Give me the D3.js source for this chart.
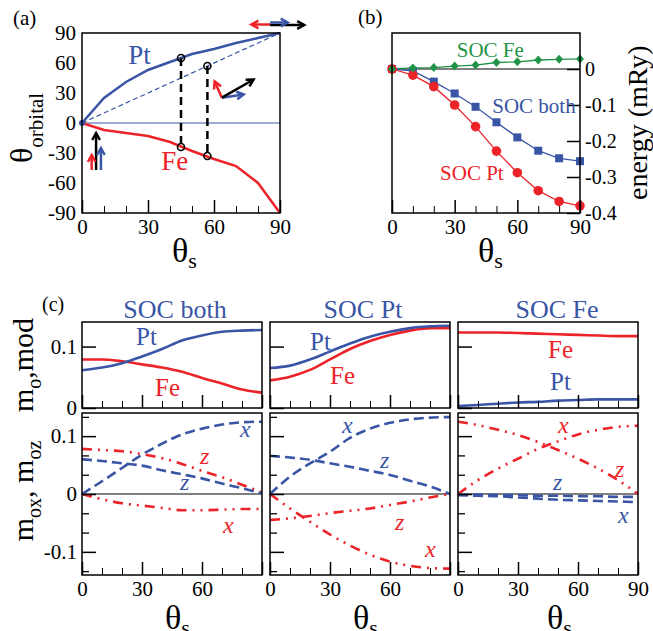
<!DOCTYPE html>
<html>
<head>
<meta charset="utf-8">
<script src="https://cdn.jsdelivr.net/npm/d3@7"></script>
<style>
body { margin: 0; background: #fff; }
svg { display: block; font-family: "Liberation Serif", "Times New Roman", serif; }
</style>
</head>
<body>
<svg id="fig" width="653" height="631"></svg>
<script>
var BLUE = "#3a55a6", RED = "#ec2329", GREEN = "#1f9447";

// shared x values (theta_s, degrees)
var thetaS = [0, 10, 20, 30, 40, 50, 60, 70, 80, 90];

// (a) orbital moment angle
var orbPt = [0, 25, 41, 53, 61, 69, 74, 80, 85, 90];
var orbFe = [0, -7, -10, -13, -19, -28, -36, -43, -60, -90];
var markS = [45, 57];
var markTop = [65, 57];
var markBot = [-24, -33];

// (b) energy (mRy)
var energyFe = [0, 0.003, 0.004, 0.008, 0.011, 0.018, 0.020, 0.025, 0.027, 0.028];
var energyBoth = [0, -0.005, -0.035, -0.068, -0.105, -0.148, -0.190, -0.227, -0.248, -0.256];
var energyPt = [0, -0.017, -0.049, -0.100, -0.160, -0.228, -0.288, -0.338, -0.368, -0.380];

// (c) |m_o| per column
var modBothPt = [0.0615, 0.066, 0.073, 0.084, 0.096, 0.110, 0.118, 0.124, 0.126, 0.127];
var modBothFe = [0.079, 0.079, 0.076, 0.071, 0.066, 0.059, 0.049, 0.040, 0.030, 0.025];
var modPtPt = [0.065, 0.069, 0.079, 0.092, 0.105, 0.116, 0.124, 0.130, 0.133, 0.134];
var modPtFe = [0.045, 0.051, 0.062, 0.079, 0.096, 0.109, 0.119, 0.126, 0.130, 0.130];
var modFePt = [0.003, 0.005, 0.007, 0.009, 0.010, 0.012, 0.013, 0.014, 0.014, 0.014];
var modFeFe = [0.123, 0.123, 0.123, 0.122, 0.121, 0.120, 0.119, 0.118, 0.117, 0.117];

// (c) m_ox, m_oz per column
var bothPtX = [0, 0.022, 0.045, 0.068, 0.087, 0.103, 0.113, 0.120, 0.124, 0.125];
var bothPtZ = [0.060, 0.057, 0.053, 0.049, 0.041, 0.034, 0.027, 0.018, 0.010, 0.001];
var bothFeZ = [0.078, 0.076, 0.074, 0.069, 0.062, 0.052, 0.040, 0.029, 0.016, 0.003];
var bothFeX = [0, -0.009, -0.016, -0.020, -0.024, -0.028, -0.028, -0.027, -0.026, -0.026];
var ptPtX = [0, 0.030, 0.053, 0.073, 0.097, 0.113, 0.123, 0.129, 0.132, 0.133];
var ptPtZ = [0.066, 0.063, 0.059, 0.053, 0.047, 0.040, 0.033, 0.023, 0.013, 0];
var ptFeZ = [-0.045, -0.042, -0.038, -0.033, -0.029, -0.025, -0.019, -0.013, -0.006, 0];
var ptFeX = [0, -0.025, -0.048, -0.070, -0.089, -0.105, -0.117, -0.124, -0.128, -0.129];
var fePtX = [-0.002, -0.003, -0.004, -0.006, -0.008, -0.010, -0.011, -0.012, -0.013, -0.014];
var fePtZ = [-0.001, -0.001, -0.002, -0.002, -0.003, -0.003, -0.004, -0.004, -0.005, -0.005];
var feFeZ = [0.125, 0.119, 0.111, 0.102, 0.090, 0.076, 0.061, 0.044, 0.024, 0];
var feFeX = [0, 0.024, 0.044, 0.061, 0.078, 0.091, 0.103, 0.111, 0.116, 0.118];

var colTitles = ["SOC both", "SOC Pt", "SOC Fe"];
var xMajor = [0, 30, 60, 90];
var xMinor = [10, 20, 40, 50, 70, 80];

var svg = d3.select("#fig");

function zip(ys) { return thetaS.map(function(t, i) { return [t, ys[i]]; }); }

function frame(g, x, y) {
  g.append("rect")
    .attr("x", x.range()[0]).attr("y", y.range()[1])
    .attr("width", x.range()[1] - x.range()[0])
    .attr("height", y.range()[0] - y.range()[1])
    .attr("fill", "none").attr("stroke", "#000").attr("stroke-width", 1.5);
}

function bottomTicks(g, x, y, labels) {
  var yb = y.range()[0];
  g.append("g").attr("transform", "translate(0," + yb + ")")
    .call(d3.axisBottom(x).tickValues(xMinor).tickSize(-7).tickFormat(""))
    .call(function(s) { s.select(".domain").remove(); });
  g.append("g").attr("transform", "translate(0," + yb + ")")
    .call(d3.axisBottom(x).tickValues(xMajor).tickSize(-13).tickPadding(6)
      .tickFormat(function(d) { return labels.indexOf(d) >= 0 ? d : ""; }))
    .call(function(s) {
      s.select(".domain").remove();
      s.selectAll("line").attr("stroke-width", 1.5);
      s.selectAll("text").attr("font-size", 21).attr("fill", "#000")
        .style("font-family", "Liberation Serif, serif");
    });
}

function arrow(g, x1, y1, x2, y2, color) {
  var a = Math.atan2(y2 - y1, x2 - x1), L = 8;
  g.append("line").attr("x1", x1).attr("y1", y1).attr("x2", x2).attr("y2", y2)
    .attr("stroke", color).attr("stroke-width", 2.5);
  g.append("path")
    .attr("d", "M" + (x2 - L * Math.cos(a - 0.5)) + "," + (y2 - L * Math.sin(a - 0.5)) +
      "L" + x2 + "," + y2 +
      "L" + (x2 - L * Math.cos(a + 0.5)) + "," + (y2 - L * Math.sin(a + 0.5)))
    .attr("fill", "none").attr("stroke", color).attr("stroke-width", 2.5);
}

function label(g, x, y, txt, color, size, italic) {
  return g.append("text").attr("x", x).attr("y", y).text(txt)
    .attr("fill", color).attr("font-size", size)
    .attr("font-style", italic ? "italic" : null);
}

// ---------------- panel (a) ----------------
var ga = svg.append("g");
var xa = d3.scaleLinear().domain([0, 90]).range([82, 280]);
var ya = d3.scaleLinear().domain([-90, 90]).range([213, 33]);
var lineA = d3.line().x(function(d) { return xa(d[0]); }).y(function(d) { return ya(d[1]); });

ga.append("line").attr("x1", xa(0)).attr("x2", xa(90)).attr("y1", ya(0)).attr("y2", ya(0))
  .attr("stroke", BLUE).attr("stroke-width", 1);
ga.append("path").attr("d", lineA([[0, 0], [90, 90]])).attr("fill", "none")
  .attr("stroke", BLUE).attr("stroke-width", 1.2).attr("stroke-dasharray", "5,3");
ga.append("path").attr("d", lineA(zip(orbPt))).attr("fill", "none").attr("stroke", BLUE).attr("stroke-width", 2.5);
ga.append("path").attr("d", lineA(zip(orbFe))).attr("fill", "none").attr("stroke", RED).attr("stroke-width", 2.5);
markS.forEach(function(s, i) {
  ga.append("line").attr("x1", xa(s)).attr("x2", xa(s)).attr("y1", ya(markTop[i])).attr("y2", ya(markBot[i]))
    .attr("stroke", "#000").attr("stroke-width", 2.5).attr("stroke-dasharray", "8,5");
  [markTop[i], markBot[i]].forEach(function(v) {
    ga.append("circle").attr("cx", xa(s)).attr("cy", ya(v)).attr("r", 3.5)
      .attr("fill", "none").attr("stroke", "#000").attr("stroke-width", 1.6);
  });
});
ga.append("circle").attr("cx", xa(0)).attr("cy", ya(0)).attr("r", 3).attr("fill", BLUE);
frame(ga, xa, ya);
bottomTicks(ga, xa, ya, xMajor);
ga.append("g").attr("transform", "translate(" + xa(0) + ",0)")
  .call(d3.axisLeft(ya).tickValues([-90, -60, -30, 0, 30, 60, 90]).tickSize(0).tickPadding(6)
    .tickFormat(function(d) { return String(d); }))
  .call(function(s) {
    s.select(".domain").remove();
    s.selectAll("text").attr("font-size", 21).attr("fill", "#000").style("font-family", "Liberation Serif, serif");
  });

// spin / orbital arrows (in data coordinates)
arrow(ga, xa(6.4), ya(-47), xa(6.4), ya(-10), "#000");
arrow(ga, xa(4.4), ya(-47), xa(4.4), ya(-32), RED);
arrow(ga, xa(8.6), ya(-47), xa(8.6), ya(-25), BLUE);
arrow(ga, xa(85.5), ya(98.5), xa(77), ya(98.5), RED);
arrow(ga, xa(85.5), ya(98), xa(101), ya(98), "#000");
arrow(ga, xa(85.5), ya(100.5), xa(93.5), ya(100.5), BLUE);
arrow(ga, xa(63.6), ya(25.3), xa(60.3), ya(41.5), RED);
arrow(ga, xa(63.6), ya(25.3), xa(73.5), ya(28.5), BLUE);
arrow(ga, xa(63.6), ya(25.3), xa(78), ya(43.5), "#000");

label(ga, xa(21), ya(59), "Pt", BLUE, 27);
label(ga, xa(36), ya(-47), "Fe", RED, 27);
label(ga, 13, 25, "(a)", "#000", 21);
var ta = ga.append("text").attr("transform", "translate(32,163) rotate(-90)").attr("fill", "#000");
ta.append("tspan").text("θ").attr("font-size", 32);
ta.append("tspan").text("orbital").attr("font-size", 21).attr("dy", 11);
var sa = ga.append("text").attr("x", 172).attr("y", 262).attr("fill", "#000");
sa.append("tspan").text("θ").attr("font-size", 34);
sa.append("tspan").text("s").attr("font-size", 22).attr("dy", 6);

// ---------------- panel (b) ----------------
var gb = svg.append("g");
var xb = d3.scaleLinear().domain([0, 90]).range([392, 580]);
var yb = d3.scaleLinear().domain([-0.4, 0.1]).range([213, 33]);
var lineB = d3.line().x(function(d) { return xb(d[0]); }).y(function(d) { return yb(d[1]); });

gb.append("line").attr("x1", xb(0)).attr("x2", xb(90)).attr("y1", yb(0)).attr("y2", yb(0))
  .attr("stroke", "#000").attr("stroke-width", 1.2);
gb.append("path").attr("d", lineB(zip(energyFe))).attr("fill", "none").attr("stroke", GREEN).attr("stroke-width", 1.3);
gb.append("path").attr("d", lineB(zip(energyBoth))).attr("fill", "none").attr("stroke", BLUE).attr("stroke-width", 1.3);
gb.append("path").attr("d", lineB(zip(energyPt))).attr("fill", "none").attr("stroke", RED).attr("stroke-width", 1.3);
gb.selectAll(".sq").data(zip(energyBoth)).enter().append("rect")
  .attr("x", function(d) { return xb(d[0]) - 4; }).attr("y", function(d) { return yb(d[1]) - 4; })
  .attr("width", 8).attr("height", 8).attr("fill", BLUE);
gb.selectAll(".ci").data(zip(energyPt)).enter().append("circle")
  .attr("cx", function(d) { return xb(d[0]); }).attr("cy", function(d) { return yb(d[1]); })
  .attr("r", 4.8).attr("fill", RED);
gb.selectAll(".di").data(zip(energyFe)).enter().append("path")
  .attr("transform", function(d) { return "translate(" + xb(d[0]) + "," + yb(d[1]) + ")"; })
  .attr("d", "M0,-4.5L4,0L0,4.5L-4,0Z").attr("fill", GREEN);
frame(gb, xb, yb);
bottomTicks(gb, xb, yb, xMajor);
gb.append("g").attr("transform", "translate(" + xb(90) + ",0)")
  .call(d3.axisRight(yb).tickValues([-0.4, -0.3, -0.2, -0.1, 0]).tickSize(-13).tickPadding(5)
    .tickFormat(function(d) { return String(d); }))
  .call(function(s) {
    s.select(".domain").remove();
    s.selectAll("line").attr("stroke-width", 1.5);
    s.selectAll("text").attr("font-size", 20).attr("fill", "#000").style("font-family", "Liberation Serif, serif");
  });
label(gb, xb(31), yb(0.033), "SOC Fe", GREEN, 21);
label(gb, xb(48), yb(-0.121), "SOC both", BLUE, 21);
label(gb, xb(23), yb(-0.308), "SOC Pt", RED, 21);
label(gb, 358, 24, "(b)", "#000", 21);
gb.append("text").attr("transform", "translate(647,200) rotate(-90)").attr("fill", "#000")
  .attr("font-size", 28).text("energy (mRy)");
var sb = gb.append("text").attr("x", 478).attr("y", 262).attr("fill", "#000");
sb.append("tspan").text("θ").attr("font-size", 34);
sb.append("tspan").text("s").attr("font-size", 22).attr("dy", 6);

// ---------------- panel (c) ----------------
var colX = [[82, 262], [270, 450], [458, 638]];
var titleX = [175, 363, 557];
var modPt = [modBothPt, modPtPt, modFePt];
var modFe = [modBothFe, modPtFe, modFeFe];
var compPtX = [bothPtX, ptPtX, fePtX];
var compPtZ = [bothPtZ, ptPtZ, fePtZ];
var compFeX = [bothFeX, ptFeX, feFeX];
var compFeZ = [bothFeZ, ptFeZ, feFeZ];
var xLabelsC = [[0, 30, 60], [0, 30, 60], [0, 30, 60, 90]];
// label anchors [theta, value]
var topLabPt = [[27, 0.102], [20, 0.095], [46, 0.0295]];
var topLabFe = [[36.5, 0.020], [30, 0.039], [45, 0.082]];
var labPtX = [[79, 0.0985], [36, 0.105], [80, -0.050]];
var labPtZ = [[49, 0.007], [55, 0.045], [47.5, 0.007]];
var labFeZ = [[59, 0.051], [62.5, -0.062], [78.5, 0.030]];
var labFeX = [[70.5, -0.067], [77.5, -0.109], [50, 0.106]];

var gc = svg.append("g");
colX.forEach(function(cx, c) {
  var x = d3.scaleLinear().domain([0, 90]).range(cx);
  var yT = d3.scaleLinear().domain([0, 0.14]).range([408, 322]);
  var yB = d3.scaleLinear().domain([-0.14, 0.14]).range([575, 413]);
  var lT = d3.line().curve(d3.curveMonotoneX).x(function(d) { return x(d[0]); }).y(function(d) { return yT(d[1]); });
  var lB = d3.line().curve(d3.curveMonotoneX).x(function(d) { return x(d[0]); }).y(function(d) { return yB(d[1]); });

  // top row
  var gt = gc.append("g");
  gt.append("path").attr("d", lT(zip(modFe[c]))).attr("fill", "none").attr("stroke", RED).attr("stroke-width", 2.6);
  gt.append("path").attr("d", lT(zip(modPt[c]))).attr("fill", "none").attr("stroke", BLUE).attr("stroke-width", 2.6);
  frame(gt, x, yT);
  bottomTicks(gt, x, yT, []);
  gt.append("g").attr("transform", "translate(" + cx[0] + ",0)")
    .call(d3.axisLeft(yT).tickValues([0, 0.1]).tickSize(-14).tickPadding(5)
      .tickFormat(function(d) { return c === 0 ? String(d) : ""; }))
    .call(function(s) {
      s.select(".domain").remove();
      s.selectAll("line").attr("stroke-width", 1.5);
      s.selectAll("text").attr("font-size", 21).attr("fill", "#000").style("font-family", "Liberation Serif, serif");
    });
  label(gt, x(topLabPt[c][0]), yT(topLabPt[c][1]), "Pt", BLUE, 25);
  label(gt, x(topLabFe[c][0]), yT(topLabFe[c][1]), "Fe", RED, 25);
  label(gt, titleX[c], 318, colTitles[c], BLUE, 26).attr("text-anchor", "middle");

  // bottom row
  var gbm = gc.append("g");
  gbm.append("line").attr("x1", cx[0]).attr("x2", cx[1]).attr("y1", yB(0)).attr("y2", yB(0))
    .attr("stroke", "#000").attr("stroke-width", 1.2);
  var dashB = "10,5", dashR = "10,6,2,6,2,6";
  gbm.append("path").attr("d", lB(zip(compFeZ[c]))).attr("fill", "none").attr("stroke", RED)
    .attr("stroke-width", 2.6).attr("stroke-dasharray", dashR);
  gbm.append("path").attr("d", lB(zip(compFeX[c]))).attr("fill", "none").attr("stroke", RED)
    .attr("stroke-width", 2.6).attr("stroke-dasharray", dashR);
  gbm.append("path").attr("d", lB(zip(compPtZ[c]))).attr("fill", "none").attr("stroke", BLUE)
    .attr("stroke-width", 2.6).attr("stroke-dasharray", dashB);
  gbm.append("path").attr("d", lB(zip(compPtX[c]))).attr("fill", "none").attr("stroke", BLUE)
    .attr("stroke-width", 2.6).attr("stroke-dasharray", dashB);
  frame(gbm, x, yB);
  bottomTicks(gbm, x, yB, xLabelsC[c]);
  gbm.append("g").attr("transform", "translate(" + cx[0] + ",0)")
    .call(d3.axisLeft(yB).tickValues([-0.1333, -0.0667, -0.0333, 0.0333, 0.0667, 0.1333]).tickSize(-7).tickFormat(""))
    .call(function(s) { s.select(".domain").remove(); s.selectAll("line").attr("stroke-width", 1.3); });
  gbm.append("g").attr("transform", "translate(" + cx[0] + ",0)")
    .call(d3.axisLeft(yB).tickValues([-0.1, 0, 0.1]).tickSize(-14).tickPadding(5)
      .tickFormat(function(d) { return c === 0 ? String(d) : ""; }))
    .call(function(s) {
      s.select(".domain").remove();
      s.selectAll("line").attr("stroke-width", 1.5);
      s.selectAll("text").attr("font-size", 21).attr("fill", "#000").style("font-family", "Liberation Serif, serif");
    });
  label(gbm, x(labPtX[c][0]), yB(labPtX[c][1]), "x", BLUE, 24, true);
  label(gbm, x(labPtZ[c][0]), yB(labPtZ[c][1]), "z", BLUE, 24, true);
  label(gbm, x(labFeZ[c][0]), yB(labFeZ[c][1]), "z", RED, 24, true);
  label(gbm, x(labFeX[c][0]), yB(labFeX[c][1]), "x", RED, 24, true);

  var st = gc.append("text").attr("x", titleX[c] - 10).attr("y", 629).attr("fill", "#000");
  st.append("tspan").text("θ").attr("font-size", 34);
  st.append("tspan").text("s").attr("font-size", 22).attr("dy", 6);
});
label(gc, 42, 311, "(c)", "#000", 20);
var my = gc.append("text").attr("transform", "translate(33,365) rotate(-90)").attr("text-anchor", "middle").attr("fill", "#000");
my.append("tspan").text("m").attr("font-size", 30);
my.append("tspan").text("o").attr("font-size", 20).attr("dy", 8);
my.append("tspan").text(",mod").attr("font-size", 30).attr("dy", -8);
var mx = gc.append("text").attr("transform", "translate(33,491) rotate(-90)").attr("text-anchor", "middle").attr("fill", "#000");
mx.append("tspan").text("m").attr("font-size", 30);
mx.append("tspan").text("ox").attr("font-size", 20).attr("dy", 8);
mx.append("tspan").text(", m").attr("font-size", 30).attr("dy", -8);
mx.append("tspan").text("oz").attr("font-size", 20).attr("dy", 8);
</script>
</body>
</html>
